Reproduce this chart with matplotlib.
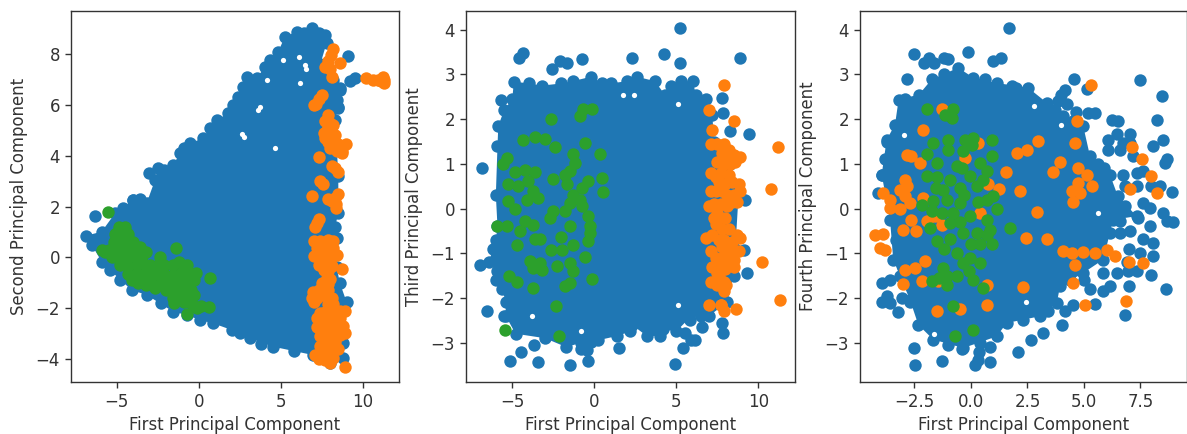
import numpy as np
import matplotlib
matplotlib.use('Agg')
import matplotlib.pyplot as plt

# first vs second component
core_12 = [(-6.89,0.85),(-5.93,1.01),(-5.12,1.73),(-4.04,2.26),(-3.19,2.13),(-2.68,3.04),(-2.48,3.5),(-1.57,3.64),
           (-1.16,4.09),(-0.55,4.49),(0.26,4.69),(1.08,5.41),(1.79,5.67),(2.4,6.33),(2.91,7.11),(3.52,7.05),
           (4.33,7.77),(4.84,8.1),(5.24,8.69),(5.96,8.88),(6.87,9.02),(7.68,8.75),(7.78,8.43),(7.4,7.6),(8.19,6.98),
           (8.6,6.65),(8.5,5.87),(8.29,5.41),(8.4,4.4),(8.5,3.2),(8.5,1.73),(8.3,1.2),(8.39,0.75),(8.4,-0.4),
           (8.6,-1.02),(9.0,-1.75),(8.8,-3.39),(8.8,-3.98),(7.99,-4.17),(6.97,-3.85),(4.53,-3.52),(3.11,-3.19),
           (1.99,-2.86),(0.87,-2.6),(0.06,-2.47),(-0.75,-2.27),(-1.57,-2.14),(-3.19,-1.48),(-4.11,-1.29),
           (-5.43,-0.5),(-5.93,-0.17),(-6.54,0.49)]
blue_12 = [(-6.34,1.63),(-3.05,3.31),(-4.04,2.26),(9.1,7.93),(9.51,7.05),(9.2,6.95),(8.6,6.6),(8.4,6.2),(8.5,5.9),
           (5.8,-3.7),(3.8,-3.4),(2.5,-3.0),(-2.3,-1.8),(-4.8,-0.9),(-4.6,1.95),(-3.6,2.3),(-2.1,3.45),(-0.9,4.3),
           (0.7,5.1),(2.1,6.0),(2.7,6.7),(4.0,7.5),(6.4,8.85),(7.3,8.85)]
holes_12 = [(2.6,4.85),(2.75,4.75),(4.13,6.98),(3.75,5.9),(3.6,5.8),(6.16,6.85),(6.46,7.57),(6.5,7.4),(5.14,7.77),
            (4.63,4.29),(6.1,7.9)]
orange_12 = [(8.2,8.2),(8.05,7.95),(7.9,7.75),(8.6,7.65),(7.7,7.5),(8.0,7.4),(8.1,7.1),(10.2,7.05),(10.6,7.0),
             (10.9,7.0),(11.2,7.1),(11.3,7.0),(11.3,6.85),(11.1,6.95),(7.5,6.4),(7.3,6.25),(7.0,6.0),(7.15,6.05),
             (7.9,5.6),(8.0,5.3),(8.2,5.2),(7.8,5.0),(8.1,4.9),(8.3,4.8),(7.7,4.7),(7.9,4.55),(8.2,4.5),(8.5,4.45),
             (8.95,4.45),(8.7,4.2),(8.7,4.1),(7.35,3.95),(8.1,3.6),(8.3,3.5),(8.5,3.35),(7.4,3.0),(7.55,2.9),(6.9,2.4),
             (8.5,2.5),(8.3,2.35),(7.9,2.3),(8.1,2.2),(8.35,2.1),(8.35,1.95),(7.3,1.5),(7.2,1.35),(7.1,1.2),
             (7.0,0.65),(7.4,0.65),(7.9,0.7),(8.2,0.65),(7.2,0.35),(7.6,0.4),(8.0,0.4),(8.2,0.35),(7.0,0.05),(7.4,0.05),
             (7.8,0.1),(7.6,-0.2),(8.0,-0.2),(8.1,-0.35),(7.6,-0.5),(7.9,-0.55),(7.8,-0.8),(8.0,-0.85),(7.9,-1.05),
             (8.7,-0.45),(6.95,-1.35),(7.3,-1.3),(7.6,-1.3),(6.9,-1.6),(7.2,-1.6),(7.0,-1.75),(7.8,-1.55),(8.1,-1.6),
             (7.9,-1.85),(8.2,-1.85),(7.4,-2.2),(7.7,-2.15),(8.0,-2.2),(8.3,-2.1),(8.6,-2.1),(8.9,-2.1),(7.5,-2.5),
             (7.9,-2.5),(8.2,-2.45),(7.2,-2.75),(7.5,-2.85),(7.8,-2.8),(8.1,-2.85),(8.4,-2.75),(8.8,-2.7),(8.9,-3.0),
             (7.4,-3.1),(7.8,-3.1),(8.2,-3.1),(8.6,-3.05),(7.6,-3.4),(8.0,-3.4),(8.3,-3.35),(7.7,-3.7),(8.1,-3.65),
             (7.1,-3.85),(7.5,-3.85),(7.9,-3.9),(8.2,-3.95),(7.3,-4.0),(7.7,-4.05),(8.0,-4.15),(8.9,-4.3),
             (7.6,4.9),(8.0,4.3),(8.4,4.2),(7.7,5.35),(7.5,-1.0),(7.3,-0.3),(7.9,-1.3),(7.2,-2.4),(8.6,-2.4),(8.5,-3.6),
             (7.4,-3.5),(8.4,0.1)]
green_12 = [(-5.55,1.8),(-4.9,1.2),(-4.5,1.2),(-5.1,0.9),(-4.7,0.9),(-4.3,0.9),(-5.2,0.6),(-4.8,0.6),(-4.4,0.6),
            (-4.0,0.6),(-5.5,0.3),(-5.1,0.3),(-4.6,0.3),(-4.1,0.3),(-3.6,0.4),(-5.7,0.2),(-5.3,0),(-4.9,-0.05),
            (-4.4,-0.05),(-3.9,0),(-3.5,0.05),(-4.8,-0.3),(-4.3,-0.35),(-3.8,-0.3),(-3.3,-0.3),(-4.3,-0.65),(-3.8,-0.6),
            (-3.3,-0.6),(-4.1,-0.9),(-3.7,-1.0),(-3.3,-0.9),(-2.9,-0.7),(-2.9,-1.0),(-2.4,0),(-1.4,0.35),(-2.5,-0.35),
            (-2.1,-0.3),(-1.6,-0.3),(-0.7,-0.3),(-2.6,-0.65),(-2.1,-0.65),(-1.6,-0.7),(-1.1,-0.6),(-0.5,-0.65),
            (-2.3,-1.0),(-1.8,-1.0),(-1.3,-1.0),(-0.8,-0.95),(-0.3,-0.9),(0.65,-0.8),(-2.0,-1.3),(-1.5,-1.3),(-1.0,-1.3),
            (-0.5,-1.3),(-1.6,-1.6),(-1.1,-1.6),(-0.6,-1.6),(-1.5,-1.8),(-0.9,-1.75),(-0.4,-1.85),(0.1,-1.9),(0.6,-1.95),
            (-0.7,-2.25),(-0.1,-2.0),(-5.9,0.3),(-3.2,0.2),(-3.0,-0.3),(-2.7,-1.2),(-3.2,-1.1),(-0.3,-1.5),(-0.2,-0.6),
            (-1.2,-0.2),(-2.4,-0.2),(-3.9,-0.9)]

# first vs third component
core_13 = [(-6.0,0.3),(-5.9,1.4),(-5.85,1.85),(-5.5,2.2),(-5.0,2.45),(-4.9,2.84),(-4.0,2.8),(-3.2,2.75),(-2.0,2.8),
           (-1.3,2.85),(-0.2,2.95),(0.5,2.8),(1.0,2.8),(2.0,2.85),(2.6,2.95),(3.7,2.85),(4.3,2.55),(4.7,2.75),(5.3,2.85),
           (6.0,2.85),(6.2,2.55),(6.8,2.45),(7.2,2.1),(7.3,1.5),(8.3,1.0),(8.8,0.3),(8.6,-0.9),(8.5,-1.5),(8.1,-2.1),
           (7.0,-2.4),(6.5,-2.4),(5.8,-2.45),(5.0,-2.75),(4.2,-2.7),(4.0,-2.85),(3.2,-2.85),(2.3,-2.6),(2.2,-2.75),
           (1.4,-2.85),(0.2,-2.95),(-0.8,-3.0),(-1.7,-3.1),(-3.0,-2.9),(-4.8,-2.8),(-5.4,-2.4),(-5.4,-2.1),(-5.6,-1.8),
           (-6.0,-1.6),(-5.9,-1.4),(-6.4,-1.2),(-6.2,-0.9),(-6.0,-0.7),(-5.9,-0.4)]
blue_13 = [(5.22,4.04),(-4.33,3.49),(-4.57,3.37),(4.25,3.46),(2.28,3.37),(-0.77,3.35),(-2.09,3.3),(-1.69,3.25),(-2.6,3.13),
           (5.22,3.25),(8.88,3.37),(9.45,1.67),(-6.87,0.91),(-5.71,2.44),(-6.97,-1.27),(-6.57,-2.3),(-5.14,-3.42),
           (-4.47,-3.22),(-3.66,-3.06),(-3.46,-3.43),(-1.48,-3.51),(-0.37,-3.4),(-0.47,-3.16),(-0.8,-3.15),(1.52,-3.13),
           (4.92,-3.48),(5.43,-3.13),(6.14,-2.93),(5.9,-2.95),(9.29,-1.44),(9.1,-0.92),(9.19,0.2),(7.83,-2.78),(7.77,-2.56),
           (6.54,-2.65),(5.83,-2.5),(5.53,-2.78),(7.76,2.48),(7.87,2.14),(8.27,1.73),(-5.5,-2.4),(-0.2,-2.98)]
holes_13 = [(1.75,2.55),(2.4,2.55),(5.1,2.35),(-3.8,-2.4),(-0.8,-2.75),(5.1,-2.15)]
orange_13 = [(7.9,2.77),(7.0,2.2),(8.5,1.97),(7.2,1.75),(11.2,1.38),(10.8,0.43),(10.2,-1.19),(11.3,-2.05),(7.0,-2.15),
             (7.75,-2.15),(8.65,-2.25),(7.9,-2.3),(7.1,1.45),(7.5,1.45),(7.9,1.45),(8.2,1.3),(8.5,1.2),(8.9,1.15),(7.5,1.05),
             (7.9,1.0),(8.3,1.0),(8.6,1.05),(7.1,0.8),(8.2,0.75),(7.6,0.6),(8.0,0.55),(8.4,0.6),(8.8,0.55),(7.1,0.4),(7.4,0.4),
             (7.8,0.4),(8.1,0.3),(8.5,0.3),(8.9,0.4),(7.3,0.1),(7.7,0.1),(8.1,0.05),(8.4,0.15),(7.0,0.05),(7.6,-0.2),(8.0,-0.2),
             (7.4,-0.35),(7.8,-0.45),(8.2,-0.45),(7.6,-0.7),(7.9,-0.7),(6.8,-0.65),(7.2,-0.6),(8.7,-0.6),(8.9,-0.65),(8.4,-0.75),
             (7.8,-0.85),(7.1,-0.95),(8.4,-0.95),(8.8,-0.95),(7.4,-1.1),(7.8,-1.1),(8.1,-1.15),(8.5,-1.15),(7.2,-1.3),(7.6,-1.3),
             (8.0,-1.35),(8.5,-1.3),(7.5,-1.45),(7.1,-1.65),(7.5,-1.7),(7.9,-1.65),(7.9,-1.85),(8.05,-1.7),(7.7,-2.15),
             (7.7,0.8),(7.4,0.7),(8.1,0.15),(7.5,-0.1),(7.6,-1.5),(8.3,1.15),(7.3,-0.2),(8.2,-0.95),(7.8,1.25),(8.7,0.15)]
green_13 = [(-0.16,2.22),(-0.71,2.22),(-0.87,2.07),(-2.64,2.01),(-4.33,1.53),(-3.62,1.6),(-3.0,1.56),(-2.4,1.37),(-0.57,1.46),
            (-1.28,1.23),(0.35,1.21),(-5.35,1.13),(-5.55,1.0),(-4.84,0.82),(-4.23,0.87),(-3.62,0.82),(-1.18,1.02),(-1.48,0.84),
            (-1.79,0.76),(0.45,0.69),(0.55,0.37),(-2.5,0.66),(-1.69,0.54),(-0.37,0.61),(-0.77,0.46),(-5.24,0.54),(-4.63,0.5),
            (-4.02,0.61),(-3.72,0.39),(-1.28,0.31),(-0.87,0.2),(-3.41,0.24),(-4.13,0.2),(-5.24,0.16),(-1.48,0.13),(-0.77,0.05),
            (-4.84,-0.02),(-1.79,-0.06),(-2.5,-0.06),(-0.37,-0.17),(-2.7,-0.21),(-5.96,-0.4),(-5.35,-0.4),(-4.23,-0.28),
            (-3.72,-0.36),(-1.48,-0.4),(-0.26,-0.4),(-4.53,-0.51),(-0.26,-0.54),(-4.73,-0.81),(-3.62,-0.68),(-3.31,-0.68),
            (-2.03,-0.64),(-0.37,-0.73),(-1.28,-0.81),(-2.64,-0.92),(-1.99,-0.92),(-0.57,-1.08),(-3.92,-1.18),(-3.31,-1.22),
            (-1.48,-1.22),(-2.3,-1.29),(-3.72,-1.33),(-3.21,-1.38),(-1.28,-1.4),(-5.18,-1.5),(-4.74,-1.65),(-0.16,-1.57),
            (-1.48,-1.66),(-1.79,-1.74),(-3.72,-1.78),(-2.34,-2.17),(-5.43,-2.72),(-2.13,-2.86)]

# first vs fourth component (x range is different here)
core_14 = [(-3.58,-0.25),(-3.95,0.76),(-3.73,1.54),(-3.36,1.88),(-3.2,2.44),(-2.3,2.55),(-1.74,2.89),(-0.56,3.15),(0.1,2.93),
           (1.14,2.81),(2.54,2.7),(3.35,2.37),(4.09,2.07),(4.97,1.84),(5.27,1.17),(6.15,0.76),(6.5,0.28),(7.33,-0.17),
           (6.3,-0.25),(6.15,-0.54),(5.86,-1.14),(4.97,-1.44),(3.94,-1.74),(3.8,-2.11),(3.05,-2.41),(1.58,-2.56),(1.14,-2.86),
           (-0.34,-3.12),(-1.67,-2.93),(-2.33,-2.6),(-2.7,-2.04),(-3.14,-1.51),(-3.44,-1.14)]
blue_14 = [(1.7,4.04),(-2.52,3.46),(-2.08,3.26),(-1.86,3.37),(-1.62,3.25),(-1.18,3.37),(-1.0,3.35),(-0.12,3.5),(0.99,3.3),
           (1.31,3.37),(-2.85,2.89),(4.56,2.89),(5.12,2.68),(7.48,2.87),(8.44,2.51),(8.22,1.99),(6.22,1.99),(6.52,1.96),
           (5.49,2.14),(5.19,2.13),(4.16,2.66),(4.0,2.55),(3.86,2.4),(4.23,2.33),(4.65,2.15),(6.08,1.54),(6.45,1.66),(7.04,1.66),
           (6.08,1.32),(6.59,1.32),(6.74,1.47),(7.04,1.47),(7.18,1.17),(8.07,1.4),(8.51,1.54),(8.66,1.1),(8.58,1.02),(6.74,0.76),
           (7.33,0.8),(7.63,0.84),(6.81,0.5),(7.33,0.5),(7.95,0.5),(8.36,0.5),(8.88,0.37),(7.63,0.13),(7.92,0.01),(8.51,-0.1),
           (8.66,-0.28),(8.95,-0.3),(7.92,-0.4),(7.4,-0.2),(7.04,-0.5),(6.59,-0.28),(6.59,-0.54),(7.63,-0.69),(8.07,-0.77),
           (8.07,-1.07),(7.48,-0.99),(7.33,-1.4),(6.96,-1.4),(6.45,-1.44),(5.86,-1.44),(7.95,-1.48),(8.63,-1.8),(7.0,-1.74),
           (6.15,-1.74),(5.86,-1.85),(5.49,-2.13),(5.27,-1.81),(4.53,-2.15),(4.16,-2.3),(4.01,-2.6),(3.2,-2.78),(2.64,-2.93),
           (2.06,-3.21),(0.84,-3.1),(0.84,-3.43),(0.35,-3.2),(0.18,-3.5),(0.3,-3.38),(-0.41,-3.14),(-1.3,-3.4),(-2.48,-3.49),
           (-2.52,-3.13),(6.81,-2.37),(-3.95,-1.66),(-3.95,-2.1),(-3.73,-1.96),(-3.58,-2.11),(-3.21,-2.32),(-3.06,-2.0),
           (-2.7,-2.1),(-4.1,0.35),(-3.95,0.75),(-3.7,1.5),(7.0,-0.9),(6.9,-1.2),
           (-1.2,3.0),(1.8,2.75),(3.7,2.2),(4.5,1.95),(5.6,1.0),(5.9,0.9),(6.8,0.05),(5.0,-1.6),(4.4,-1.6),(3.4,-2.3),
           (2.3,-2.5),(0.4,-3.0),(-1.0,-3.05),(-3.0,-1.3),(-3.3,-0.7),(-3.8,1.1),(-3.6,-1.6),(-2.9,2.45),(0.6,2.9),(2.0,2.7)]
holes_14 = [(-2.95,1.65),(2.8,2.3),(4.0,1.88),(2.45,-2.1),(-1.65,-2.8),(5.6,-0.1)]
orange_14 = [(5.33,2.77),(4.68,1.96),(2.98,1.51),(4.6,1.47),(2.46,1.32),(2.02,1.25),(7.11,1.37),(7.55,1.12),(3.94,1.04),(3.64,0.81),
             (4.75,0.91),(5.12,0.76),(1.55,0.81),(7.95,0.72),(8.22,0.35),(7.04,0.43),(5.34,0.5),(4.75,0.57),(4.46,0.39),(4.83,0.35),
             (4.5,0.15),(2.17,0.4),(1.25,0.43),(2.91,-0.08),(2.43,-0.66),(3.38,-0.67),(4.09,-0.96),(4.45,-0.99),(4.97,-0.98),
             (5.49,-0.99),(6.0,-0.92),(6.37,-1.07),(4.6,-1.27),(7.0,-1.2),(7.63,-1.22),(4.53,-1.66),(2.32,-1.75),(5.04,-2.15),
             (6.86,-2.06),(0.69,-2.15),(-0.49,-2.25),(-1.52,-2.3),(0.69,-1.7),(-1.45,-1.61),(-2.15,-1.63),(-3.0,-1.68),(-2.92,-1.37),
             (-2.48,-1.33),(-2.04,-1.18),(-3.8,-0.92),(-4.03,-0.88),(-4.25,-0.6),(-3.88,-0.58),(-3.0,-0.49),(-2.43,-0.51),
             (-2.67,-0.25),(-1.3,-0.36),(-1.96,-0.28),(-1.59,-0.17),(0.4,-0.1),(-3.58,0.02),(-3.14,-0.02),(-2.92,0.28),(-2.7,0.12),
             (-3.88,0.35),(-3.58,0.2),(-3.14,0.42),(-2.92,0.65),(-2.85,0.5),(-2.11,0.24),(-2.26,1.01),(-2.85,1.19),(-2.67,1.17),
             (-2.11,1.75),(-1.3,2.23),(-0.27,1.13),(0.32,1.47),(0.77,0.54)]
green_14 = [(-1.96,2.22),(-1.15,2.1),(-0.78,2.22),(-0.85,2.03),(-1.67,1.47),(-1.0,1.54),(-0.27,1.54),(0.1,1.58),(0.91,1.54),
            (-1.96,1.21),(-1.0,1.32),(-0.34,1.28),(0.03,1.43),(0.91,1.17),(-1.52,1.02),(0.4,1.02),(-0.41,0.91),(0.69,0.83),
            (-1.96,0.72),(-0.93,0.65),(-0.05,0.72),(0.55,0.65),(-1.23,0.42),(-0.49,0.46),(0.25,0.5),(0.99,0.28),(-1.67,0.16),
            (-2.18,0.09),(-1.08,0.2),(-0.49,0.13),(0.69,0.2),(1.14,-0.02),(-1.74,-0.06),(-0.78,-0.1),(-0.05,-0.17),(0.69,-0.25),
            (-1.82,-0.43),(-0.93,-0.32),(0.84,-0.47),(1.73,-0.43),(-0.34,-0.54),(0.25,-0.54),(-1.52,-0.73),(-0.93,-0.69),(0.91,-0.8),
            (0.0,-0.8),(-0.63,-0.99),(-0.05,-1.1),(0.4,-1.22),(-0.34,-1.22),(-1.23,-1.33),(-1.08,-1.51),(0.1,-1.59),(-1.74,-1.63),
            (-1.08,-1.7),(0.55,-1.78),(-0.78,-2.18),(-0.71,-2.85),(0.07,-2.72),
            (-1.5,0.7),(-1.3,-0.1),(-0.6,0.95),(0.3,0.15),(-0.5,-0.3),(0.4,-0.8),(-1.2,-0.9),(-0.6,-1.5),(-0.1,-1.4),(-1.4,-1.55),
            (-1.55,0.45),(0.7,-0.6),(-0.3,0.3)]

blue, orange, green = '#1f77b4', '#ff7f0e', '#2ca02c'
W, H = 1187, 434
msize = 80
panels = [
    (71, 399, (-7.8, 12.2), (-4.91, 9.7), core_12, blue_12, holes_12, orange_12, green_12,
     'Second Principal Component', [-5, 0, 5, 10], [-4, -2, 0, 2, 4, 6, 8]),
    (466, 795, (-7.82, 12.24), (-3.88, 4.42), core_13, blue_13, holes_13, orange_13, green_13,
     'Third Principal Component', [-5, 0, 5, 10], [-3, -2, -1, 0, 1, 2, 3, 4]),
    (860, 1187, (-4.91, 9.56), (-3.88, 4.42), core_14, blue_14, holes_14, orange_14, green_14,
     'Fourth Principal Component', [-2.5, 0, 2.5, 5, 7.5], [-3, -2, -1, 0, 1, 2, 3, 4]),
]

fig = plt.figure(figsize=(W / 100, H / 100), dpi=100)
for left, right, xlim, ylim, core, pts, holes, org, grn, ylab, xt, yt in panels:
    ax = fig.add_axes([left / W, 1 - 382 / H, (right - left) / W, 371 / H])
    core = np.array(core)
    # the dense middle is drawn as an outline, individual points would hide it anyway
    ax.fill(core[:, 0], core[:, 1], color=blue, lw=0, zorder=1)
    ax.scatter(core[:, 0], core[:, 1], s=msize, color=blue, lw=0, zorder=1)
    ax.scatter(*np.array(holes).T, s=14, color='white', lw=0, zorder=1.5)
    ax.scatter(*np.array(pts).T, s=msize, color=blue, lw=0, zorder=2)
    ax.scatter(*np.array(org).T, s=msize, color=orange, lw=0, zorder=3)
    ax.scatter(*np.array(grn).T, s=msize, color=green, lw=0, zorder=4)
    ax.set_xlim(xlim)
    ax.set_ylim(ylim)
    ax.set_xticks(xt)
    ax.set_yticks(yt)
    if xt[0] == -2.5:
        ax.set_xticklabels(['\u22122.5', '0.0', '2.5', '5.0', '7.5'])
    ax.tick_params(labelsize=12, length=4.4, width=1, colors='#333333')
    for s in ax.spines.values():
        s.set_linewidth(1)
        s.set_color('#333333')
    ax.set_xlabel('First Principal Component', fontsize=11.9, color='#333333', labelpad=3.5)
    ax.set_ylabel(ylab, fontsize=11.9, color='#333333')
    ax.yaxis.set_label_coords(-43 / (right - left), 0.5)

fig.savefig('out.png', dpi=100)
